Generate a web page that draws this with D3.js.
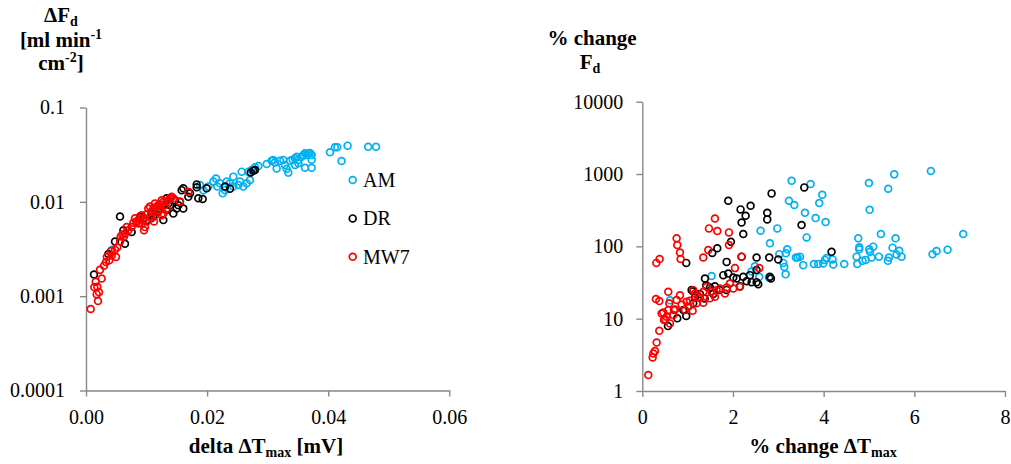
<!DOCTYPE html>
<html><head><meta charset="utf-8">
<script src="https://cdn.jsdelivr.net/npm/d3@7"></script>
<style>
html,body{margin:0;padding:0;background:#fff;}
svg{display:block;}
</style></head>
<body>
<svg id="chart" width="1011" height="464"></svg>
<script>
// ---------- DATA ----------
const seriesNames = ["AM", "DR", "MW7"];
const seriesColors = ["#00B0F0", "#000000", "#FF0000"];

// Left panel: delta ΔTmax [mV] vs ΔFd
const amLeft = [[0.01883,0.0151],[0.01938,0.0133],[0.0202,0.0145],[0.02103,0.0164],[0.02147,0.0177],[0.02169,0.0145],[0.02213,0.0157],[0.02257,0.0123],[0.02296,0.0133],[0.02323,0.0164],[0.02378,0.0157],[0.02433,0.0185],[0.02433,0.0145],[0.02516,0.0151],[0.02543,0.0164],[0.02571,0.0209],[0.02598,0.0145],[0.02653,0.0157],[0.02681,0.0209],[0.02708,0.0170],[0.02736,0.0217],[0.02764,0.0217],[0.02791,0.0232],[0.02846,0.0240],[0.02984,0.0252],[0.03066,0.0272],[0.03094,0.0277],[0.03121,0.0262],[0.03149,0.0226],[0.03204,0.0272],[0.03259,0.0277],[0.03286,0.0246],[0.03314,0.0224],[0.03341,0.0204],[0.03369,0.0272],[0.03413,0.0280],[0.03452,0.0246],[0.03479,0.0301],[0.03507,0.0277],[0.03562,0.0301],[0.03589,0.0313],[0.03617,0.0327],[0.03644,0.0313],[0.03672,0.0327],[0.03699,0.0330],[0.03727,0.0313],[0.03727,0.0280],[0.03727,0.0230],[0.03617,0.0230],[0.03507,0.0256],[0.03452,0.0289],[0.0403,0.0335],[0.0411,0.0378],[0.0415,0.0378],[0.0432,0.0394],[0.0422,0.0271],[0.0466,0.0384],[0.0479,0.0384],[0.0043,0.0031],[0.0115,0.0072]];
const drLeft = [[0.00562,0.0070],[0.00132,0.0017],[0.00369,0.0028],[0.00479,0.0038],[0.00644,0.0036],[0.00617,0.0050],[0.00754,0.0048],[0.00837,0.0062],[0.00947,0.0067],[0.01002,0.0064],[0.01112,0.0070],[0.01194,0.0079],[0.01277,0.0064],[0.01332,0.0082],[0.01387,0.0092],[0.01442,0.0075],[0.01497,0.0085],[0.01525,0.0092],[0.01580,0.0133],[0.01607,0.0139],[0.01607,0.0085],[0.01690,0.0113],[0.01718,0.0123],[0.01828,0.0153],[0.01828,0.0143],[0.01855,0.0109],[0.01927,0.0107],[0.01993,0.0139],[0.02296,0.0145],[0.02378,0.0138],[0.02720,0.0205],[0.02764,0.0214],[0.02791,0.0217],[0.01360,0.0096],[0.01222,0.0085],[0.01084,0.0075],[0.00892,0.0070],[0.01332,0.0109],[0.01470,0.0104],[0.01552,0.0100]];
const mwLeft = [[0.00077,0.00073],[0.00198,0.00089],[0.00176,0.00105],[0.00215,0.00110],[0.00138,0.00124],[0.00187,0.00126],[0.00259,0.00154],[0.00160,0.00142],[0.00231,0.0019],[0.00297,0.0021],[0.00330,0.0023],[0.00385,0.0024],[0.00424,0.0027],[0.00495,0.0026],[0.00479,0.0031],[0.00517,0.0033],[0.00562,0.0038],[0.00573,0.0043],[0.00628,0.0043],[0.00644,0.0046],[0.00699,0.0050],[0.00754,0.0054],[0.00782,0.0060],[0.00837,0.0062],[0.00864,0.0059],[0.00892,0.0067],[0.00947,0.0064],[0.00958,0.0050],[0.01002,0.0074],[0.01029,0.0085],[0.01084,0.0079],[0.01112,0.0085],[0.01123,0.0062],[0.01167,0.0089],[0.01194,0.0092],[0.01222,0.0094],[0.01277,0.0100],[0.01305,0.0092],[0.01360,0.0104],[0.01387,0.0109],[0.01415,0.0113],[0.01442,0.0109],[0.01250,0.0072],[0.01277,0.0075],[0.01552,0.0100],[0.01690,0.0128],[0.01084,0.0067],[0.00974,0.0054],[0.00919,0.0059],[0.01167,0.0079],[0.01057,0.0089],[0.01332,0.0085],[0.00672,0.0054],[0.00809,0.0067],[0.01139,0.0096],[0.01332,0.0100],[0.0125,0.0104],[0.00919,0.0072],[0.01002,0.0062],[0.00345,0.0026],[0.00410,0.0030],[0.00600,0.0045],[0.01060,0.0070],[0.01210,0.0082]];

// Right panel: % change ΔTmax vs % change Fd
const amRight = [[3.293,807],[3.712,726],[3.234,427],[3.352,373],[3.587,292],[3.822,246],[3.969,518],[3.903,397],[4.043,217],[3.624,133],[2.977,177],[2.609,164],[2.815,110],[4.998,750],[5.424,627],[5.557,989],[6.365,1099],[5.013,321],[5.263,148],[5.586,129],[7.078,148],[4.763,129],[4.785,97],[4.785,91],[5.094,99],[5.005,91],[5.020,84],[5.520,96],[5.667,87],[5.608,77],[5.718,72],[5.439,70],[5.417,63],[5.219,72],[5.057,70],[4.925,65],[4.858,63],[4.726,72],[4.741,57],[4.454,57],[4.212,56],[4.197,66],[4.065,69],[4.028,65],[3.991,58],[3.881,57],[3.785,57],[3.550,55],[3.477,72],[6.402,78],[6.490,86],[6.733,90],[3.197,91],[3.021,78],[3.168,80],[3.388,70],[3.425,70],[3.109,59],[3.131,52],[3.161,41],[2.411,45],[2.484,53],[1.529,39],[2.793,37],[0.610,18],[2.580,38]];
const drRight = [[2.852,540],[3.572,653],[1.896,427],[2.168,324],[2.389,364],[2.279,265],[2.190,214],[2.756,292],[2.756,236],[3.513,197],[4.175,84],[2.227,148],[1.955,116],[1.654,94],[1.544,81],[0.970,59],[1.860,61],[2.190,72],[2.521,70],[2.800,70],[2.999,66],[2.815,38],[2.837,36],[2.521,47],[2.374,40],[2.227,38],[2.080,36],[2.521,32],[2.558,30],[1.382,36],[1.786,40],[1.896,42],[2.007,37],[2.301,33],[2.411,32],[1.088,25],[1.161,20],[1.492,27],[1.602,28],[1.698,25],[1.375,19],[1.411,29],[1.117,24],[0.970,10.9],[0.566,7.9],[0.772,10.1],[1.272,22],[1.860,25],[2.154,28],[1.566,22],[0.904,13.2],[1.125,16.3]];
const mwRight = [[0.309,59],[0.382,67],[0.757,129],[0.772,104],[0.831,82],[0.845,67],[1.602,243],[1.470,177],[1.654,163],[1.911,156],[1.911,104],[1.455,89],[1.345,70],[2.190,72],[2.043,50],[2.580,50],[0.132,1.66],[0.243,3.30],[0.279,3.56],[0.228,2.91],[0.316,4.69],[0.375,6.79],[0.301,18.7],[0.375,17.5],[0.463,12.2],[0.478,9.6],[0.537,10.6],[0.573,13.2],[0.573,23.5],[0.595,16.3],[0.610,8.6],[0.720,13.4],[0.831,21],[0.867,15.7],[0.941,13.2],[1.014,14.6],[1.051,17.7],[1.110,12.9],[1.161,22.3],[1.198,16.3],[1.272,19.1],[1.345,23.6],[1.345,16.6],[1.492,19.1],[1.419,27.6],[1.602,20.1],[1.639,24.8],[1.823,22.3],[1.860,27],[1.933,30.7],[2.007,26.2],[2.154,27.6],[0.757,18.1],[1.125,24.8],[0.507,9.8],[0.698,13.2],[0.978,17.1],[1.235,20.1],[1.529,23.5],[1.713,26.2],[0.684,11.2],[0.426,11.8]];

// Tick values and labels
const leftXTicks = [0, 0.02, 0.04, 0.06];
const leftXLabels = ["0.00", "0.02", "0.04", "0.06"];
const leftYTicks = [0.0001, 0.001, 0.01, 0.1];
const leftYLabels = ["0.0001", "0.001", "0.01", "0.1"];
const rightXTicks = [0, 2, 4, 6, 8];
const rightXLabels = ["0", "2", "4", "6", "8"];
const rightYTicks = [1, 10, 100, 1000, 10000];
const rightYLabels = ["1", "10", "100", "1000", "10000"];

// ---------- DRAWING ----------
const FONT = "'Liberation Serif', 'Times New Roman', Times, serif";
const AXIS_COLOR = "#898989";
const MARKER_R = 3.4;
const MARKER_W = 1.7;
const svg = d3.select("#chart");
svg.append("rect").attr("width", 1011).attr("height", 464).attr("fill", "#fff");

function styleAxis(g) {
  g.select(".domain").attr("stroke", AXIS_COLOR).attr("stroke-width", 1.4);
  g.selectAll(".tick line").attr("stroke", AXIS_COLOR).attr("stroke-width", 1.4);
  g.selectAll(".tick text").attr("fill", "#000").style("font-family", FONT).style("font-size", "20px");
}

function panel(cfg) {
  const x = d3.scaleLinear().domain(cfg.xDomain).range(cfg.xRange);
  const y = d3.scaleLog().domain(cfg.yDomain).range(cfg.yRange);

  const gx = svg.append("g").attr("transform", `translate(0,${cfg.yRange[0]})`)
    .call(d3.axisBottom(x).tickValues(cfg.xTicks)
      .tickFormat((d, i) => cfg.xLabels[i]).tickSize(6).tickSizeOuter(0).tickPadding(13));
  styleAxis(gx);

  const gy = svg.append("g").attr("transform", `translate(${cfg.xRange[0]},0)`)
    .call(d3.axisLeft(y).tickValues(cfg.yTicks)
      .tickFormat((d, i) => cfg.yLabels[i]).tickSize(6).tickSizeOuter(0).tickPadding(cfg.yPad));
  styleAxis(gy);

  cfg.series.forEach((data, si) => {
    svg.append("g").selectAll("circle").data(data).join("circle")
      .attr("cx", d => x(d[0])).attr("cy", d => y(d[1])).attr("r", MARKER_R)
      .attr("fill", "none").attr("stroke", seriesColors[si]).attr("stroke-width", MARKER_W);
  });
  return { x, y };
}

panel({
  xDomain: [0, 0.06], xRange: [86, 449.3],
  yDomain: [0.0001, 0.1], yRange: [390.5, 107.5],
  xTicks: leftXTicks, xLabels: leftXLabels,
  yTicks: leftYTicks, yLabels: leftYLabels, yPad: 15,
  series: [amLeft, drLeft, mwLeft]
});

panel({
  xDomain: [0, 8], xRange: [642.3, 1005],
  yDomain: [1, 10000], yRange: [391, 101.7],
  xTicks: rightXTicks, xLabels: rightXLabels,
  yTicks: rightYTicks, yLabels: rightYLabels, yPad: 13,
  series: [amRight, drRight, mwRight]
});

// Titles
function boldText(xc, yb) {
  return svg.append("text").attr("x", xc).attr("y", yb).attr("text-anchor", "middle")
    .style("font-family", FONT).style("font-size", "21px").style("font-weight", "bold").attr("fill", "#000");
}
// Left y title
let t = boldText(61, 22);
t.append("tspan").text("ΔF");
t.append("tspan").text("d").style("font-size", "14px").attr("dy", 4);
t = boldText(61, 46.5);
t.append("tspan").text("[ml min");
t.append("tspan").text("-1").style("font-size", "14px").attr("dy", -8);
t = boldText(61, 70);
t.append("tspan").text("cm");
t.append("tspan").text("-2").style("font-size", "14px").attr("dy", -8);
t.append("tspan").text("]").attr("dy", 8);

// Right y title
boldText(592, 45).text("% change");
t = boldText(590, 68.5);
t.append("tspan").text("F");
t.append("tspan").text("d").style("font-size", "14px").attr("dy", 4);

// X titles
t = boldText(266, 453);
t.append("tspan").text("delta ΔT");
t.append("tspan").text("max").style("font-size", "14px").attr("dy", 4);
t.append("tspan").text(" [mV]").attr("dy", -4);

t = boldText(823, 453);
t.append("tspan").text("% change ΔT");
t.append("tspan").text("max").style("font-size", "14px").attr("dy", 4);

// Legend
const legend = svg.append("g");
seriesNames.forEach((name, i) => {
  const ly = 180 + i * 38.4;
  legend.append("circle").attr("cx", 352.7).attr("cy", ly).attr("r", MARKER_R)
    .attr("fill", "none").attr("stroke", seriesColors[i]).attr("stroke-width", MARKER_W);
  legend.append("text").attr("x", 363).attr("y", ly).attr("dy", "0.35em")
    .style("font-family", FONT).style("font-size", "20px").attr("fill", "#000").text(name);
});
</script>
</body></html>
